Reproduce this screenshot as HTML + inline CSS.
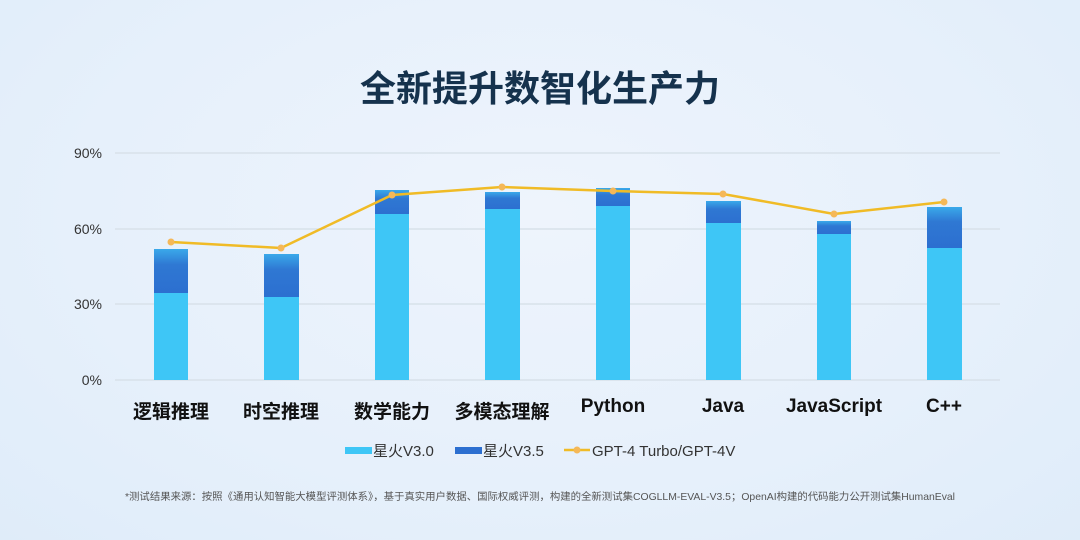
<!DOCTYPE html>
<html><head><meta charset="utf-8"><style>
html,body{margin:0;padding:0;width:1080px;height:540px;overflow:hidden}
body{background:radial-gradient(ellipse at 50% 40%,#eef4fc 0%,#e6f0fb 60%,#dfecf9 100%)}
svg{display:block}
text{font-family:"Liberation Sans","Noto Sans CJK SC",sans-serif}
</style></head><body>
<svg width="1080" height="540" viewBox="0 0 1080 540">
<defs>
<linearGradient id="g35" x1="0" y1="0" x2="0" y2="1">
<stop offset="0" stop-color="#3aa9ea"/><stop offset="0.35" stop-color="#2f78d3"/><stop offset="1" stop-color="#2c6fd0"/>
</linearGradient>
</defs>
<text x="540" y="101" text-anchor="middle" font-size="36" font-weight="bold" fill="#15324d" style="font-family:'Noto Sans CJK SC',sans-serif">全新提升数智化生产力</text>
<g stroke="#d8e1ea" stroke-width="1.5">
<line x1="115" y1="153" x2="1000" y2="153"/><line x1="115" y1="229" x2="1000" y2="229"/>
<line x1="115" y1="304" x2="1000" y2="304"/><line x1="115" y1="380" x2="1000" y2="380"/>
</g>
<g font-size="14" fill="#333" text-anchor="end">
<text x="102" y="158">90%</text><text x="102" y="234">60%</text><text x="102" y="309">30%</text><text x="102" y="385">0%</text>
</g>
<g>
<rect x="154" y="249" width="34" height="45" fill="url(#g35)"/><rect x="154" y="293" width="34" height="87" fill="#3ec6f6"/>
<rect x="264" y="254" width="35" height="44" fill="url(#g35)"/><rect x="264" y="297" width="35" height="83" fill="#3ec6f6"/>
<rect x="375" y="190" width="34" height="25" fill="url(#g35)"/><rect x="375" y="214" width="34" height="166" fill="#3ec6f6"/>
<rect x="485" y="192" width="35" height="18" fill="url(#g35)"/><rect x="485" y="209" width="35" height="171" fill="#3ec6f6"/>
<rect x="596" y="188" width="34" height="19" fill="url(#g35)"/><rect x="596" y="206" width="34" height="174" fill="#3ec6f6"/>
<rect x="706" y="201" width="35" height="23" fill="url(#g35)"/><rect x="706" y="223" width="35" height="157" fill="#3ec6f6"/>
<rect x="817" y="221" width="34" height="14" fill="url(#g35)"/><rect x="817" y="234" width="34" height="146" fill="#3ec6f6"/>
<rect x="927" y="207" width="35" height="42" fill="url(#g35)"/><rect x="927" y="248" width="35" height="132" fill="#3ec6f6"/>
</g>
<polyline points="171,242 281,248 392,195 502,187 613,191 723,194 834,214 944,202" fill="none" stroke="#f0bb26" stroke-width="2.5"/>
<g fill="#f5b858">
<circle cx="171" cy="242" r="3.5"/><circle cx="281" cy="248" r="3.5"/><circle cx="392" cy="195" r="3.5"/><circle cx="502" cy="187" r="3.5"/>
<circle cx="613" cy="191" r="3.5"/><circle cx="723" cy="194" r="3.5"/><circle cx="834" cy="214" r="3.5"/><circle cx="944" cy="202" r="3.5"/>
</g>
<g font-size="19" font-weight="bold" fill="#111" text-anchor="middle">
<text x="171" y="418">逻辑推理</text><text x="281" y="418">时空推理</text><text x="392" y="418">数学能力</text><text x="502" y="418">多模态理解</text>
<text x="613" y="412">Python</text><text x="723" y="412">Java</text><text x="834" y="412">JavaScript</text><text x="944" y="412">C++</text>
</g>
<rect x="345" y="447" width="27" height="7" fill="#3ec6f6"/>
<text x="373" y="456" font-size="15" fill="#333">星火V3.0</text>
<rect x="455" y="447" width="27" height="7" fill="#2c6fd0"/>
<text x="483" y="456" font-size="15" fill="#333">星火V3.5</text>
<line x1="564" y1="450" x2="590" y2="450" stroke="#f0bb26" stroke-width="2.5"/>
<circle cx="577" cy="450" r="3.5" fill="#f5b858"/>
<text x="592" y="456" font-size="15" fill="#333">GPT-4 Turbo/GPT-4V</text>
<text x="540" y="500" font-size="10.4" fill="#555" text-anchor="middle">*测试结果来源：按照《通用认知智能大模型评测体系》，基于真实用户数据、国际权威评测，构建的全新测试集COGLLM-EVAL-V3.5；OpenAI构建的代码能力公开测试集HumanEval</text>
</svg>
</body></html>
